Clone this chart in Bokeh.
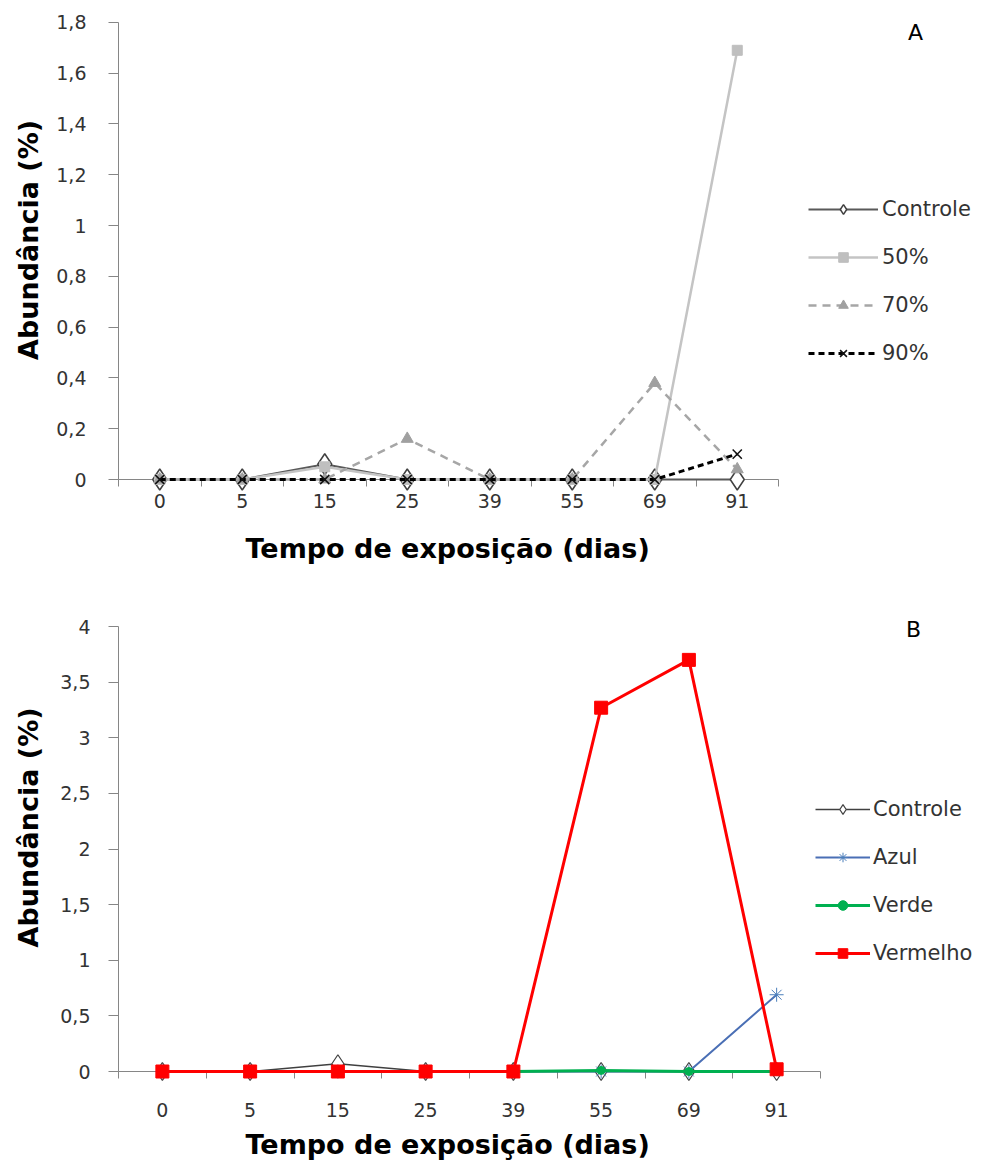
from bokeh.plotting import figure
from bokeh.models import (Range1d, FixedTicker, Legend, LegendItem, Label, Title, CustomJSTickFormatter)
from bokeh.layouts import column
from bokeh.embed import file_html
from bokeh.resources import INLINE

# ---------------- data ----------------
days = ["0", "5", "15", "25", "39", "55", "69", "91"]

# Chart A
a_controle = [0, 0, 0.06, 0, 0, 0, 0, 0]
a_50 = [0, 0, 0.05, 0, 0, 0, 0, 1.69]
a_70 = [0, 0, 0, 0.16, 0, 0, 0.38, 0.04]
a_90 = [0, 0, 0, 0, 0, 0, 0, 0.10]
a_yticks = [0, 0.2, 0.4, 0.6, 0.8, 1, 1.2, 1.4, 1.6, 1.8]

# Chart B
b_controle = [0, 0, 0.07, 0, 0, 0, 0, 0]
b_azul = [0, 0, 0, 0, 0, 0, 0, 0.69]
b_verde = [0, 0, 0, 0, 0, 0.01, 0, 0]
b_vermelho = [0, 0, 0, 0, 0, 3.27, 3.70, 0.02]
b_yticks = [0, 0.5, 1, 1.5, 2, 2.5, 3, 3.5, 4]

x_title = "Tempo de exposição (dias)"
y_title = "Abundância (%)"

TICK_FONT = "DejaVu Sans"
AXIS_COL = "#868686"
TEXT_COL = "#333333"

N = len(days)
# category slots: each category occupies one unit, centred at i + 0.5
xpos = [i + 0.5 for i in range(N)]

FIG_W = 983
LEFT = 118
FRAME_W = FIG_W - LEFT


def make_fig(ymax, yticks, cat_px, yextra_px, axis_px, height, bottom,
             xlab_standoff, ylab_standoff, ytitle_standoff):
    # the frame is wider/taller than the axes so the legend and panel letter fit inside it
    xend = FRAME_W / cat_px
    yend = ymax + yextra_px * ymax / axis_px
    p = figure(width=FIG_W, height=height, x_range=Range1d(0, xend),
               y_range=Range1d(0, yend), output_backend="svg", toolbar_location=None,
               min_border_left=LEFT, min_border_right=0,
               min_border_top=0, min_border_bottom=bottom)
    p.outline_line_color = None
    p.grid.visible = False
    p.background_fill_color = "white"
    p.border_fill_color = "white"

    # y axis
    ya = p.yaxis[0]
    ya.bounds = (0, ymax)
    ya.ticker = FixedTicker(ticks=yticks)
    ya.formatter = CustomJSTickFormatter(
        code="return String(Math.round(tick*10)/10).replace('.', ',');")
    ya.axis_line_color = AXIS_COL
    ya.major_tick_line_color = AXIS_COL
    ya.major_tick_out = 10
    ya.major_tick_in = 0
    ya.minor_tick_line_color = None
    ya.major_label_text_font = TICK_FONT
    ya.major_label_text_font_size = "19px"
    ya.major_label_text_color = TEXT_COL
    ya.major_label_standoff = ylab_standoff
    ya.axis_label = y_title
    ya.axis_label_text_font = "DejaVu Sans"
    ya.axis_label_text_font_style = "bold"
    ya.axis_label_text_font_size = "27px"
    ya.axis_label_text_color = "#000000"
    ya.axis_label_standoff = ytitle_standoff

    # x axis: labels at category centres, ticks at category boundaries
    xa = p.xaxis[0]
    xa.bounds = (0, N)
    xa.ticker = FixedTicker(ticks=xpos, minor_ticks=[i for i in range(N + 1)])
    xa.formatter = CustomJSTickFormatter(args=dict(labels=days),
                                         code="return labels[Math.floor(tick)];")
    xa.axis_line_color = AXIS_COL
    xa.major_tick_line_color = None
    xa.major_tick_out = 7
    xa.major_tick_in = 0
    xa.minor_tick_line_color = AXIS_COL
    xa.minor_tick_out = 7
    xa.minor_tick_in = 0
    xa.major_label_text_font = TICK_FONT
    xa.major_label_text_font_size = "19px"
    xa.major_label_text_color = TEXT_COL
    xa.major_label_standoff = xlab_standoff
    return p


def add_xtitle(p, offset, standoff):
    p.add_layout(Title(text=x_title, align="left", offset=offset, standoff=standoff,
                       text_font="DejaVu Sans", text_font_style="bold",
                       text_font_size="27px", text_color="#000000"), "below")


def series(p, y, line_kw, marker, marker_kw):
    lr = p.line(xpos, y, level="overlay", **line_kw)
    mr = p.scatter(xpos, y, marker=marker, level="overlay", **marker_kw)
    return [lr, mr]


# ---------------- chart A ----------------
pA = make_fig(1.8, a_yticks, 82.5, 22, 460, 583, 101, 7, 22, 9)
add_xtitle(pA, 127, 40)
rA = []
rA.append(("Controle", series(pA, a_controle, dict(line_color="#595959", line_width=2),
                               "diamond", dict(size=21, fill_color="white", line_color="#404040", line_width=1.5))))
rA.append(("50%", series(pA, a_50, dict(line_color="#c4c4c4", line_width=2.5),
                          "square", dict(size=10, fill_color="#bfbfbf", line_color="#bfbfbf"))))
rA.append(("70%", series(pA, a_70, dict(line_color="#a6a6a6", line_width=2.5, line_dash="8 6"),
                          "triangle", dict(size=12, fill_color="#a0a0a0", line_color="#a0a0a0"))))
rA.append(("90%", series(pA, a_90, dict(line_color="#000000", line_width=3, line_dash="6 4"),
                          "x", dict(size=13, line_color="#111111", line_width=1.5))))
legA = Legend(items=[LegendItem(label=l, renderers=r) for l, r in rA],
              location=(690, 114), padding=0, margin=0, spacing=24,
              glyph_width=70, glyph_height=24, label_height=24, label_standoff=4,
              label_text_font=TICK_FONT, label_text_font_size="21px", label_text_color=TEXT_COL,
              border_line_color=None, background_fill_alpha=0)
pA.add_layout(legA, "center")
pA.add_layout(Label(x=9.66, y=1.76, text="A", text_align="center",
                    text_baseline="middle", text_font="DejaVu Sans", text_font_size="22px",
                    text_color="#000000"))

# ---------------- chart B ----------------
pB = make_fig(4, b_yticks, 87.75, 43, 445, 583, 95, 24, 18, 13)
add_xtitle(pB, 127, 14)
rB = []
rB.append(("Controle", series(pB, b_controle, dict(line_color="#404040", line_width=1.5),
                               "diamond", dict(size=18, fill_color="white", line_color="#404040", line_width=1.2))))
rB.append(("Azul", series(pB, b_azul, dict(line_color="#4a6fb5", line_width=2),
                           "asterisk", dict(size=14, line_color="#4a7ebb", line_width=1))))
rB.append(("Verde", series(pB, b_verde, dict(line_color="#00b050", line_width=3),
                            "circle", dict(size=8, fill_color="#00b050", line_color="#00b050"))))
rB.append(("Vermelho", series(pB, b_vermelho, dict(line_color="#ff0000", line_width=3),
                               "square", dict(size=13, fill_color="#ff0000", line_color="#ff0000"))))
legB = Legend(items=[LegendItem(label=l, renderers=r) for l, r in rB],
              location=(697, 106), padding=0, margin=0, spacing=24,
              glyph_width=55, glyph_height=24, label_height=24, label_standoff=3,
              label_text_font=TICK_FONT, label_text_font_size="21px", label_text_color=TEXT_COL,
              border_line_color=None, background_fill_alpha=0)
pB.add_layout(legB, "center")
pB.add_layout(Label(x=9.06, y=3.97, text="B", text_align="center",
                    text_baseline="middle", text_font="DejaVu Sans", text_font_size="22px",
                    text_color="#000000"))

layout = column(pA, pB)
open("out.html", "w").write(file_html(layout, INLINE))
